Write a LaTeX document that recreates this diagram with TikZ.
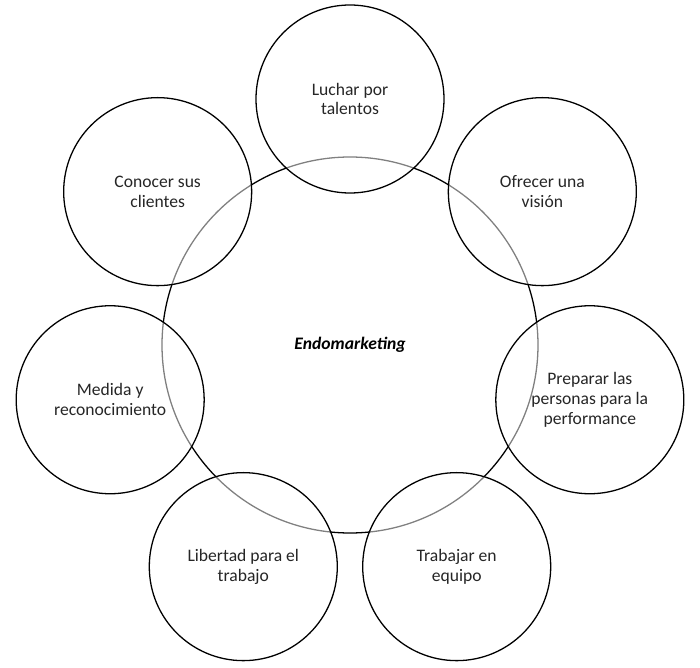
\documentclass[tikz,border=0pt]{standalone}
\usepackage{fontspec}
\setmainfont{Carlito}
\usetikzlibrary{positioning}

\begin{document}
\begin{tikzpicture}[x=0.03cm,y=0.03cm,
        hub/.style={circle,draw,line width=1.1pt,inner sep=0pt,minimum size=376*0.03cm},
        petal/.style={circle,draw,line width=1.1pt,fill=white,fill opacity=0.5,text opacity=1,
            inner sep=0pt,minimum size=188*0.03cm,align=center,font=\fontsize{15}{17}\selectfont,text=black!85}]
        \useasboundingbox (-350,-322) rectangle (350,345);
        \node[hub,font=\fontsize{15}{17}\selectfont\bfseries\itshape] at (0, 0) (endo) {Endomarketing};

        \node[petal] at (90:246) (luchar) {Luchar por\\talentos};
        \node[petal] at (38.57:246) (ofrecer) {Ofrecer una\\visión};
        \node[petal] at (347.14:246) (preparar) {Preparar las\\personas para la\\performance};
        \node[petal] at (295.71:246) (trabajar) {Trabajar en\\equipo};
        \node[petal] at (244.29:246) (libertad) {Libertad para el\\trabajo};
        \node[petal] at (192.86:246) (medida) {Medida y\\reconocimiento};
        \node[petal] at (141.43:246) (conocer) {Conocer sus\\clientes};
    \end{tikzpicture}
\end{document}
